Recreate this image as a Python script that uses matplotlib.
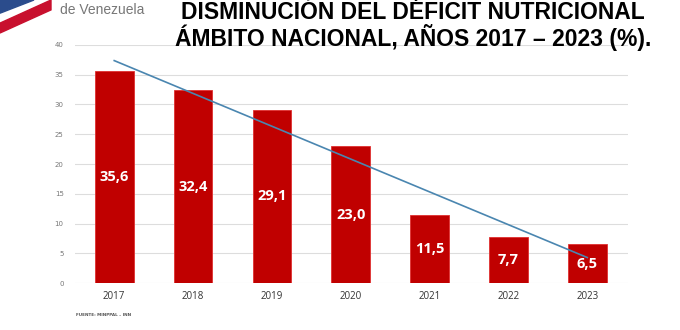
import matplotlib
matplotlib.use("Agg")
import matplotlib.pyplot as plt
import numpy as np
from matplotlib.patches import Polygon

years = ["2017", "2018", "2019", "2020", "2021", "2022", "2023"]
values = [35.6, 32.4, 29.1, 23.0, 11.5, 7.7, 6.5]
labels = ["35,6", "32,4", "29,1", "23,0", "11,5", "7,7", "6,5"]
yticks = [0, 5, 10, 15, 20, 25, 30, 35, 40]

fig = plt.figure(figsize=(6.8, 3.3), dpi=100)
ax = fig.add_axes([0.110, 0.142, 0.814, 0.722])

x = np.arange(len(years))
ax.bar(x, values, width=0.49, color="#C00000", edgecolor="#E03030", linewidth=0.6, zorder=2)
for xi, v, lab in zip(x, values, labels):
    ax.text(xi, v / 2, lab, ha="center", va="center", color="white",
            fontsize=10.5, fontweight="bold", family="Open Sans", zorder=4)

coef = np.polyfit(x, values, 1)
ax.plot(x, np.polyval(coef, x), color="#4A86B0", linewidth=1.2, zorder=3)

ax.set_ylim(0, 40)
ax.set_xlim(-0.5, 6.52)
ax.set_yticks(yticks)
ax.set_yticklabels([str(t) for t in yticks], fontsize=5, color="#777777")
ax.set_xticks(x)
ax.set_xticklabels(years, fontsize=7, color="#333333", family="Open Sans")
ax.tick_params(length=0, pad=6)
ax.tick_params(axis="y", pad=8)
ax.grid(axis="y", color="#DDDDDD", linewidth=0.8, zorder=0)
for s in ax.spines.values():
    s.set_visible(False)

fig.text(0.607, 0.997,
         "DISMINUCIÓN DEL DÉFICIT NUTRICIONAL\nÁMBITO NACIONAL, AÑOS 2017 – 2023 (%).",
         ha="center", va="top", multialignment="center", linespacing=0.98,
         fontsize=16.5, fontweight="heavy", family="Liberation Sans", color="black")

fig.text(0.088, 0.97, "de Venezuela", ha="left", va="center", fontsize=10,
         color="#777777", family="Liberation Sans")
fig.patches.append(Polygon([[0.0, 0.93], [0.075, 1.0], [0.075, 0.97], [0.0, 0.90]],
                           closed=True, transform=fig.transFigure, color="#C8102E"))
fig.patches.append(Polygon([[0.0, 0.96], [0.05, 1.0], [0.0, 1.0]],
                           closed=True, transform=fig.transFigure, color="#2B4C8C"))

fig.text(0.112, 0.045, "FUENTE: MINPPAL – INN", ha="left", va="center", fontsize=3,
         color="#555555", fontweight="bold")

fig.savefig("out.png", dpi=100)
